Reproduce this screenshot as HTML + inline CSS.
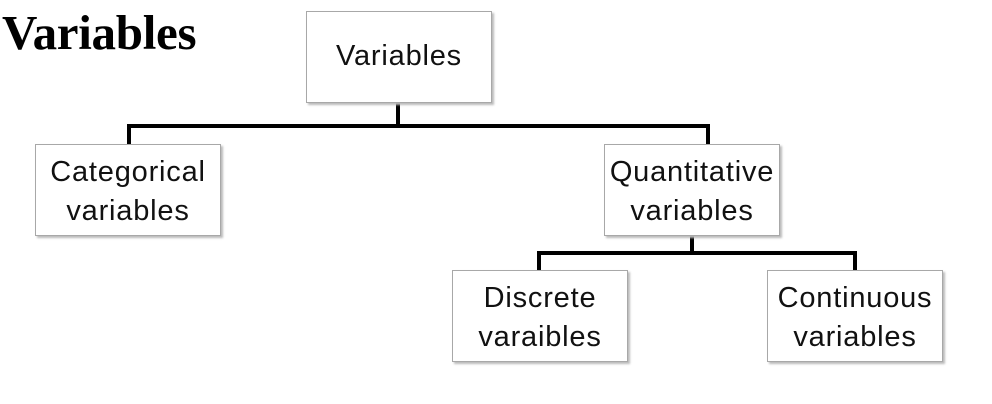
<!DOCTYPE html>
<html><head><style>
body{margin:0;width:992px;height:404px;background:#fff;position:relative;overflow:hidden}
.t{position:absolute;left:2px;top:4px;font:bold 49px "Liberation Serif",serif;color:#000;letter-spacing:-0.3px}
.b{position:absolute;box-sizing:border-box;border:1.5px solid #a8a8a8;background:#fff;box-shadow:2px 2px 2px #bbb;display:flex;align-items:center;justify-content:center;text-align:center;font:29px/39px "Liberation Sans",sans-serif;letter-spacing:0.8px;color:#111;white-space:nowrap;padding-top:4px}
.l{position:absolute;background:#000}
</style></head><body>
<div class="t">Variables</div>
<div class="l" style="left:396px;top:102px;width:4px;height:26px"></div>
<div class="l" style="left:127px;top:124px;width:583px;height:4px"></div>
<div class="l" style="left:127px;top:124px;width:4px;height:21px"></div>
<div class="l" style="left:706px;top:124px;width:4px;height:21px"></div>
<div class="l" style="left:690px;top:235px;width:4px;height:20px"></div>
<div class="l" style="left:537px;top:251px;width:320px;height:4px"></div>
<div class="l" style="left:537px;top:251px;width:4px;height:20px"></div>
<div class="l" style="left:853px;top:251px;width:4px;height:20px"></div>
<div class="b" style="left:306px;top:11px;width:186px;height:92px;padding-top:0;padding-bottom:2px">Variables</div>
<div class="b" style="left:35px;top:144px;width:186px;height:92px">Categorical<br>variables</div>
<div class="b" style="left:604px;top:144px;width:176px;height:92px">Quantitative<br>variables</div>
<div class="b" style="left:452px;top:270px;width:176px;height:92px">Discrete<br>varaibles</div>
<div class="b" style="left:767px;top:270px;width:176px;height:92px">Continuous<br>variables</div>
</body></html>
